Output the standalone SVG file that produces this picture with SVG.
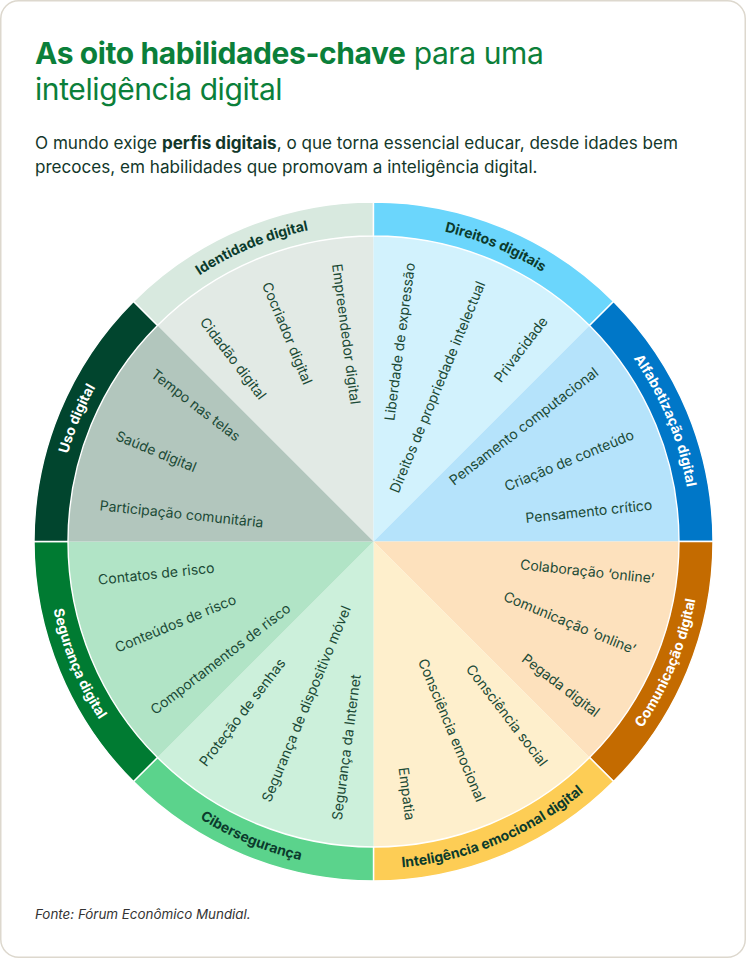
<svg xmlns="http://www.w3.org/2000/svg" xmlns:xlink="http://www.w3.org/1999/xlink" width="746" height="958" viewBox="0 0 746 958">
<style>
text{font-family:Inter,"Noto Sans","Liberation Sans",sans-serif}
.title{font-size:30px;fill:#0b7f3a;letter-spacing:-0.4px}
.sub{font-size:17.1px;fill:#12372a}
.foot{font-size:13.4px;fill:#333;font-style:italic}
.band{stroke:#fff;stroke-width:1.4}
.lab{font-size:14px;font-weight:700}
.dk{fill:#0b3b2c}
.wt{fill:#fff}
.it{font-size:14px;fill:#1b4a36}
.r{text-anchor:end}
</style>
<defs>
<path id="a-uso" d="M-318,0A318,318 0 0 1 -224.86,-224.86"/>
<path id="a-ide" d="M-224.86,-224.86A318,318 0 0 1 0,-318"/>
<path id="a-dir" d="M0,-318A318,318 0 0 1 224.86,-224.86"/>
<path id="a-alf" d="M224.86,-224.86A318,318 0 0 1 318,0"/>
<path id="a-com" d="M231.22,231.22A327,327 0 0 0 327,0"/>
<path id="a-emo" d="M0,327A327,327 0 0 0 231.22,231.22"/>
<path id="a-cib" d="M-231.22,231.22A327,327 0 0 0 0,327"/>
<path id="a-seg" d="M-327,0A327,327 0 0 0 -231.22,231.22"/>
</defs>
<rect x="0.75" y="0.75" width="744.5" height="956.5" rx="18" fill="#fff" stroke="#ddd8ce" stroke-width="1.5"/>
<g id="header">
<text class="title" x="35" y="64"><tspan font-weight="700">As oito habilidades-chave</tspan> para uma</text>
<text class="title" x="35" y="100">inteligência digital</text>
<text class="sub" x="35" y="149">O mundo exige <tspan font-weight="700">perfis digitais</tspan>, o que torna essencial educar, desde idades bem</text>
<text class="sub" x="35" y="173">precoces, em habilidades que promovam a inteligência digital.</text>
</g>
<g id="wheel" transform="translate(373.5 541.5)">
<g id="identidade-digital">
<path d="M0,0L-216.02,-216.02A305.5,305.5 0 0 1 0,-305.5Z" fill="#e2eae5"/>
<path class="band" d="M-240.06,-240.06A339.5,339.5 0 0 1 0,-339.5L0,-305.5A305.5,305.5 0 0 0 -216.02,-216.02Z" fill="#d8e9df"/>
<text class="lab dk"><textPath xlink:href="#a-ide" href="#a-ide" startOffset="50%" text-anchor="middle">Identidade digital</textPath></text>
<text class="it" transform="rotate(52.5)" x="-280" dy="0.35em">Cidadão digital</text>
<text class="it" transform="rotate(67.5)" x="-280" dy="0.35em">Cocriador digital</text>
<text class="it" transform="rotate(82.5)" x="-280" dy="0.35em">Empreendedor digital</text>
</g>
<g id="direitos-digitais">
<path d="M0,0L0,-305.5A305.5,305.5 0 0 1 216.02,-216.02Z" fill="#d2f2fd"/>
<path class="band" d="M0,-339.5A339.5,339.5 0 0 1 240.06,-240.06L216.02,-216.02A305.5,305.5 0 0 0 0,-305.5Z" fill="#6bd6fc"/>
<text class="lab dk"><textPath xlink:href="#a-dir" href="#a-dir" startOffset="50%" text-anchor="middle">Direitos digitais</textPath></text>
<text class="it r" transform="rotate(-82.5)" x="281" dy="0.35em">Liberdade de expressão</text>
<text class="it r" transform="rotate(-67.5)" x="281" dy="0.35em">Direitos de propriedade intelectual</text>
<text class="it r" transform="rotate(-52.5)" x="281" dy="0.35em">Privacidade</text>
</g>
<g id="alfabetizacao-digital">
<path d="M0,0L216.02,-216.02A305.5,305.5 0 0 1 305.5,0Z" fill="#b5e3fb"/>
<path class="band" d="M240.06,-240.06A339.5,339.5 0 0 1 339.5,0L305.5,0A305.5,305.5 0 0 0 216.02,-216.02Z" fill="#0077c8"/>
<text class="lab wt"><textPath xlink:href="#a-alf" href="#a-alf" startOffset="50%" text-anchor="middle">Alfabetização digital</textPath></text>
<text class="it r" transform="rotate(-37.5)" x="281" dy="0.35em">Pensamento computacional</text>
<text class="it r" transform="rotate(-22.5)" x="281" dy="0.35em">Criação de conteúdo</text>
<text class="it r" transform="rotate(-7.5) translate(281 0) rotate(1.5)" dy="0.35em">Pensamento crítico</text>
</g>
<g id="comunicacao-digital">
<path d="M0,0L305.5,0A305.5,305.5 0 0 1 216.02,216.02Z" fill="#fde1bd"/>
<path class="band" d="M339.5,0A339.5,339.5 0 0 1 240.06,240.06L216.02,216.02A305.5,305.5 0 0 0 305.5,0Z" fill="#c46b00"/>
<text class="lab wt"><textPath xlink:href="#a-com" href="#a-com" startOffset="50%" text-anchor="middle">Comunicação digital</textPath></text>
<text class="it r" transform="rotate(7.5) translate(283 0) rotate(-1.5)" dy="0.35em">Colaboração ‘online’</text>
<text class="it r" transform="rotate(22.5)" x="283" dy="0.35em">Comunicação ‘online’</text>
<text class="it r" transform="rotate(37.5)" x="283" dy="0.35em">Pegada digital</text>
</g>
<g id="inteligencia-emocional-digital">
<path d="M0,0L216.02,216.02A305.5,305.5 0 0 1 0,305.5Z" fill="#feefcc"/>
<path class="band" d="M240.06,240.06A339.5,339.5 0 0 1 0,339.5L0,305.5A305.5,305.5 0 0 0 216.02,216.02Z" fill="#fdcd55"/>
<text class="lab dk"><textPath xlink:href="#a-emo" href="#a-emo" startOffset="50%" text-anchor="middle">Inteligência emocional digital</textPath></text>
<text class="it r" transform="rotate(52.5)" x="281" dy="0.35em">Consciência social</text>
<text class="it r" transform="rotate(67.5)" x="281" dy="0.35em">Consciência emocional</text>
<text class="it r" transform="rotate(82.5)" x="281" dy="0.35em">Empatia</text>
</g>
<g id="ciberseguranca">
<path d="M0,0L0,305.5A305.5,305.5 0 0 1 -216.02,216.02Z" fill="#ccf0db"/>
<path class="band" d="M0,339.5A339.5,339.5 0 0 1 -240.06,240.06L-216.02,216.02A305.5,305.5 0 0 0 0,305.5Z" fill="#5bd38c"/>
<text class="lab dk"><textPath xlink:href="#a-cib" href="#a-cib" startOffset="50%" text-anchor="middle">Cibersegurança</textPath></text>
<text class="it" transform="rotate(-82.5)" x="-281" dy="0.35em">Segurança da Internet</text>
<text class="it" transform="rotate(-67.5)" x="-281" dy="0.35em">Segurança de dispositivo móvel</text>
<text class="it" transform="rotate(-52.5)" x="-281" dy="0.35em">Proteção de senhas</text>
</g>
<g id="seguranca-digital">
<path d="M0,0L-216.02,216.02A305.5,305.5 0 0 1 -305.5,0Z" fill="#b1e4c6"/>
<path class="band" d="M-240.06,240.06A339.5,339.5 0 0 1 -339.5,0L-305.5,0A305.5,305.5 0 0 0 -216.02,216.02Z" fill="#007b32"/>
<text class="lab wt"><textPath xlink:href="#a-seg" href="#a-seg" startOffset="50%" text-anchor="middle">Segurança digital</textPath></text>
<text class="it" transform="rotate(-37.5)" x="-279" dy="0.35em">Comportamentos de risco</text>
<text class="it" transform="rotate(-22.5)" x="-279" dy="0.35em">Conteúdos de risco</text>
<text class="it" transform="rotate(-7.5) translate(-278 0) rotate(1.5)" dy="0.5em">Contatos de risco</text>
</g>
<g id="uso-digital">
<path d="M0,0L-305.5,0A305.5,305.5 0 0 1 -216.02,-216.02Z" fill="#b2c6bd"/>
<path class="band" d="M-339.5,0A339.5,339.5 0 0 1 -240.06,-240.06L-216.02,-216.02A305.5,305.5 0 0 0 -305.5,0Z" fill="#01452e"/>
<text class="lab wt"><textPath xlink:href="#a-uso" href="#a-uso" startOffset="50%" text-anchor="middle">Uso digital</textPath></text>
<text class="it" transform="rotate(7.5) translate(-276 0) rotate(-1.5)" dy="0.35em">Participação comunitária</text>
<text class="it" transform="rotate(22.5)" x="-278" dy="0.35em">Saúde digital</text>
<text class="it" transform="rotate(37.5)" x="-278" dy="0.35em">Tempo nas telas</text>
</g>
</g>
<text class="foot" x="35" y="919">Fonte: Fórum Econômico Mundial.</text>
</svg>
